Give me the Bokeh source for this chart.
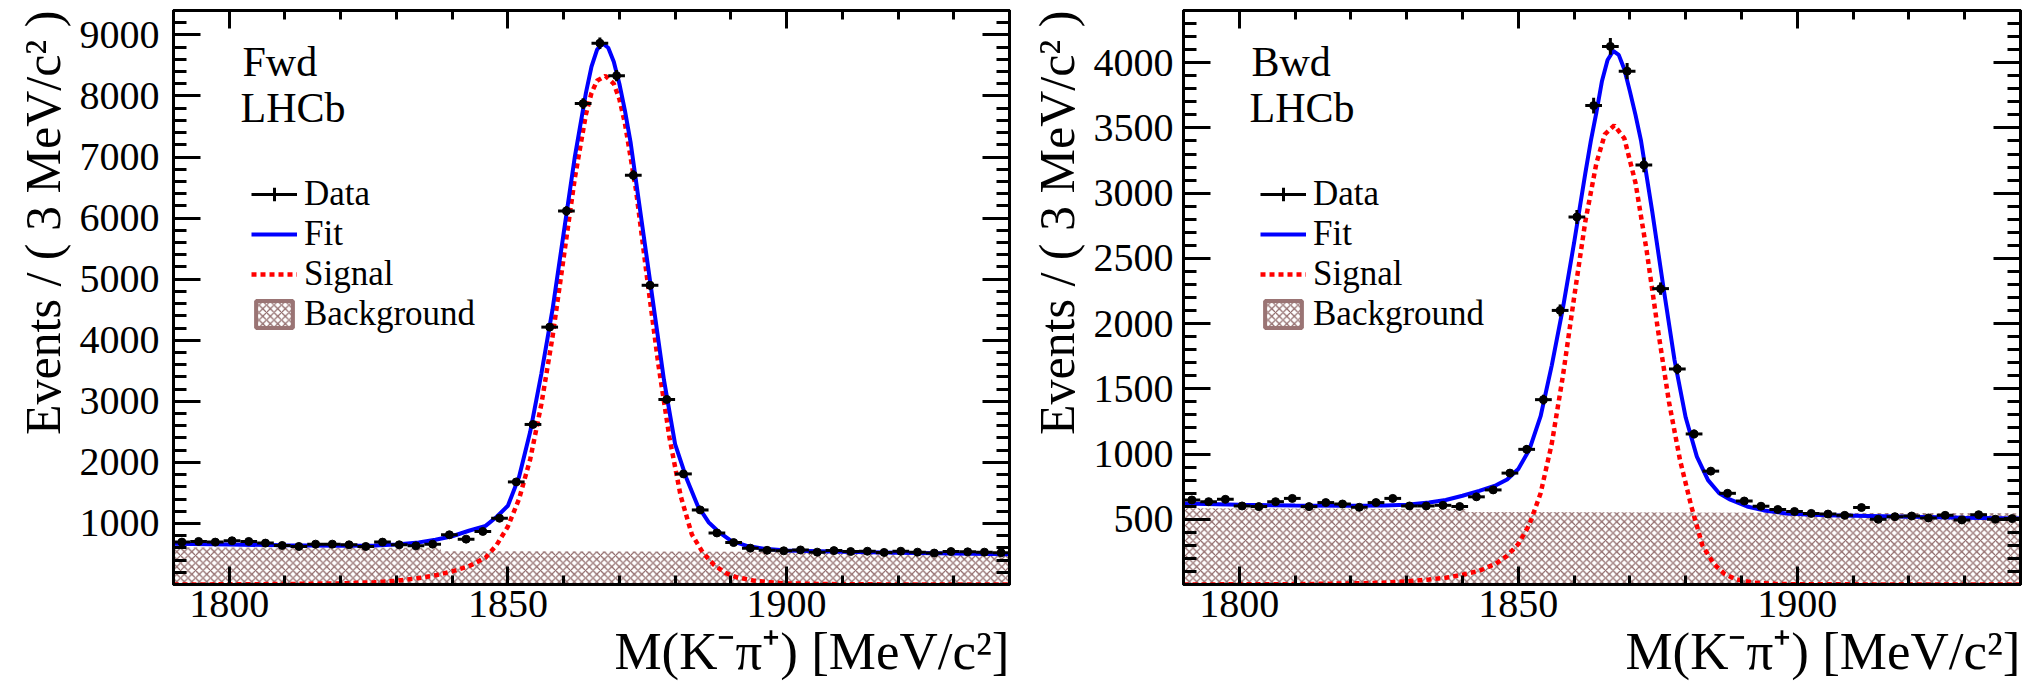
import numpy as np
from bokeh.plotting import figure
from bokeh.layouts import row
from bokeh.models import (ColumnDataSource, FixedTicker, LinearAxis, Range1d,
                          Legend, LegendItem, Label, Title, CustomJSTickFormatter)
from bokeh.embed import file_html
from bokeh.resources import INLINE

FONT = "Liberation Serif"

# ---------------- data ----------------
BIN_CENTERS = [1791.5, 1794.5, 1797.5, 1800.5, 1803.5, 1806.5, 1809.5, 1812.5, 1815.5, 1818.5,
               1821.5, 1824.5, 1827.5, 1830.5, 1833.5, 1836.5, 1839.5, 1842.5, 1845.5, 1848.5,
               1851.5, 1854.5, 1857.5, 1860.5, 1863.5, 1866.5, 1869.5, 1872.5, 1875.5, 1878.5,
               1881.5, 1884.5, 1887.5, 1890.5, 1893.5, 1896.5, 1899.5, 1902.5, 1905.5, 1908.5,
               1911.5, 1914.5, 1917.5, 1920.5, 1923.5, 1926.5, 1929.5, 1932.5, 1935.5, 1938.5]
BIN_WIDTH = 3.0

FWD_COUNTS = [694, 705, 694, 716, 705, 678, 639, 623, 661, 661,
              650, 623, 694, 650, 633, 661, 814, 743, 869, 1085,
              1680, 2621, 4215, 6118, 7875, 8865, 8333, 6702, 4900, 3030,
              1811, 1221, 844, 687, 595, 560, 552, 566, 530, 555,
              540, 545, 525, 545, 530, 515, 540, 535, 530, 520]

BWD_COUNTS = [648, 635, 653, 602, 597, 635, 660, 597, 628, 617,
              592, 628, 660, 602, 602, 607, 598, 672, 725, 854,
              1036, 1417, 2101, 2817, 3671, 4125, 3935, 3216, 2268, 1652,
              1154, 869, 699, 640, 600, 575, 560, 545, 540, 530,
              590, 500, 520, 525, 510, 530, 495, 535, 500, 505]

FWD_FIT_X = [1790, 1800, 1810, 1820, 1826, 1830, 1834, 1837, 1840, 1843, 1846, 1848, 1850, 1852,
             1854, 1856, 1858, 1860, 1862, 1864, 1865, 1866, 1867, 1868, 1869, 1870, 1871, 1872,
             1874, 1876, 1878, 1880, 1882, 1884, 1886, 1888, 1890, 1893, 1896, 1900, 1910, 1920,
             1930, 1940]
FWD_FIT_Y = [667, 655, 642, 636, 640, 655, 690, 733, 790, 880, 960, 1110, 1290, 1760,
             2500, 3450, 4500, 5750, 7000, 8050, 8480, 8760, 8860, 8790, 8560, 8200, 7760, 7250,
             5950, 4650, 3350, 2300, 1750, 1300, 1020, 850, 720, 630, 585, 555, 535, 520,
             508, 497]

FWD_SIG_X = [1790, 1800, 1810, 1820, 1826, 1830, 1834, 1837, 1840, 1843, 1846, 1848, 1850, 1852,
             1854, 1856, 1858, 1860, 1862, 1864, 1865, 1866, 1867.5, 1869, 1870, 1871, 1873, 1875,
             1877, 1879, 1881, 1883, 1885, 1887, 1889, 1891, 1894, 1897, 1900, 1910, 1920, 1940]
FWD_SIG_Y = [0, 3, 8, 18, 35, 60, 105, 150, 215, 300, 440, 650, 950, 1400,
             2050, 2950, 4050, 5350, 6650, 7700, 8050, 8250, 8330, 8200, 7950, 7550, 6450, 5000,
             3600, 2400, 1450, 820, 520, 320, 190, 120, 65, 35, 18, 4, 1, 0]

FWD_BKG_X = [1790, 1838, 1838, 1940]
FWD_BKG_Y = [610, 603, 545, 532]

BWD_FIT_X = [1790, 1800, 1810, 1820, 1826, 1830, 1834, 1837, 1840, 1843, 1846, 1848, 1850, 1852,
             1854, 1856, 1858, 1860, 1862, 1863, 1864, 1865, 1866, 1867, 1868, 1869, 1870, 1871,
             1872, 1874, 1876, 1878, 1880, 1882, 1884, 1886, 1888, 1891, 1894, 1898, 1905, 1918,
             1930, 1940]
BWD_FIT_Y = [620, 612, 605, 603, 606, 612, 628, 648, 680, 718, 760, 805, 885, 1035,
             1290, 1680, 2120, 2620, 3150, 3400, 3620, 3860, 4020, 4090, 4060, 3950, 3780, 3600,
             3400, 2860, 2280, 1720, 1280, 980, 800, 700, 650, 598, 568, 545, 530, 521,
             512, 505]

BWD_SIG_X = [1790, 1810, 1820, 1826, 1830, 1834, 1837, 1840, 1843, 1846, 1848, 1850, 1852,
             1854, 1856, 1858, 1860, 1862, 1864, 1865.5, 1867.2, 1869, 1871, 1873, 1875, 1877,
             1879, 1881, 1883, 1885, 1887, 1889, 1892, 1896, 1900, 1920, 1940]
BWD_SIG_Y = [0, 3, 8, 14, 24, 38, 52, 75, 105, 160, 220, 310, 460,
             700, 1080, 1600, 2200, 2780, 3230, 3450, 3520, 3420, 3080, 2560, 1960, 1400,
             950, 600, 300, 160, 80, 40, 15, 5, 2, 0, 0]

BWD_BKG_X = [1790, 1841, 1841, 1940]
BWD_BKG_Y = [585, 578, 556, 546]

X_MAJOR = [1800, 1850, 1900]
FWD_Y_MAJOR = [1000, 2000, 3000, 4000, 5000, 6000, 7000, 8000, 9000]
BWD_Y_MAJOR = [500, 1000, 1500, 2000, 2500, 3000, 3500, 4000]

Y_TITLE = "Events / ( 3 MeV/c\u00b2 )"
X_TITLE = "M(K\u207b\u03c0\u207a) [MeV/c\u00b2]"
LEGEND_LABELS = ["Data", "Fit", "Signal", "Background"]

HATCH = "#8c6464"
BOX = "#9a7474"


def style_axis(ax, tin_major, tin_minor, show_labels, standoff=0):
    ax.major_tick_in = tin_major
    ax.major_tick_out = 0
    ax.minor_tick_in = tin_minor
    ax.minor_tick_out = 0
    ax.axis_line_width = 3
    ax.axis_line_color = "black"
    ax.major_tick_line_width = 3
    ax.minor_tick_line_width = 3
    ax.major_tick_line_color = "black"
    ax.minor_tick_line_color = "black"
    if show_labels:
        ax.major_label_text_font = FONT
        ax.major_label_text_font_size = "40px"
        ax.major_label_text_color = "black"
        ax.major_label_standoff = standoff
    else:
        ax.formatter = CustomJSTickFormatter(code="return ''")
        ax.major_label_text_font_size = "0px"
        ax.major_label_text_color = None
        ax.major_label_standoff = 0


def build(tag, counts, fit_x, fit_y, sig_x, sig_y, bkg_x, bkg_y, ymax, ymajor, yminor,
          width, bl, br, ylab_standoff, ytitle_standoff, text_dx):
    p = figure(width=width, height=695, x_range=Range1d(1790, 1940), y_range=Range1d(0, ymax),
               output_backend="svg", toolbar_location=None,
               min_border_left=bl, min_border_right=br, min_border_top=10, min_border_bottom=111)
    p.xgrid.visible = False
    p.ygrid.visible = False
    p.outline_line_color = "black"
    p.outline_line_width = 3
    p.background_fill_color = "white"
    p.border_fill_color = "white"

    xminor = list(range(1790, 1941, 10))
    p.xaxis.ticker = FixedTicker(ticks=X_MAJOR, minor_ticks=xminor)
    p.yaxis.ticker = FixedTicker(ticks=ymajor, minor_ticks=yminor)
    style_axis(p.xaxis[0], 18, 9, True, 6)
    style_axis(p.yaxis[0], 27, 13, True, ylab_standoff)

    top = LinearAxis(ticker=FixedTicker(ticks=X_MAJOR, minor_ticks=xminor))
    style_axis(top, 18, 9, False)
    p.add_layout(top, "above")
    right = LinearAxis(ticker=FixedTicker(ticks=ymajor, minor_ticks=yminor))
    style_axis(right, 27, 13, False)
    p.add_layout(right, "right")

    # data source
    c = np.array(BIN_CENTERS, dtype=float)
    n = np.array(counts, dtype=float)
    e = np.sqrt(n)
    src = ColumnDataSource(dict(x=c, y=n, x0=c - BIN_WIDTH / 2, x1=c + BIN_WIDTH / 2,
                                y0=n - e, y1=n + e))

    # background (hatched)
    r_bkg = p.varea(x=bkg_x, y1=[0] * len(bkg_x), y2=bkg_y, fill_color=None,
                    hatch_pattern="x", hatch_color=HATCH, hatch_scale=7.5, hatch_weight=1.2)
    # zero-size boxes at the data points: only their legend swatch outline is visible
    r_box = p.quad(left="x", right="x", top="y", bottom="y", source=src,
                   fill_color=None, line_color=BOX, line_width=4, line_alpha=1.0)

    # signal and fit
    r_sig = p.line(sig_x, sig_y, line_color="#ff0000", line_width=4.5, line_dash="5 4")
    r_fit = p.line(fit_x, fit_y, line_color="#0000ff", line_width=4)

    # data
    r_xerr = p.segment(x0="x0", y0="y", x1="x1", y1="y", source=src,
                       line_color="black", line_width=3)
    r_cross = p.scatter("x", "y", source=src, marker="cross", size=1,
                        line_width=3, line_color="black")
    p.segment(x0="x", y0="y0", x1="x", y1="y1", source=src, line_color="black", line_width=3)
    p.scatter("x", "y", source=src, size=8, color="black")

    legend = Legend(items=[
        LegendItem(label=LEGEND_LABELS[0], renderers=[r_xerr, r_cross]),
        LegendItem(label=LEGEND_LABELS[1], renderers=[r_fit]),
        LegendItem(label=LEGEND_LABELS[2], renderers=[r_sig]),
        LegendItem(label=LEGEND_LABELS[3], renderers=[r_bkg, r_box]),
    ], location=(text_dx + 9, 250))
    legend.label_text_font = FONT
    legend.label_text_font_size = "35px"
    legend.label_text_color = "black"
    legend.glyph_width = 46
    legend.glyph_height = 34
    legend.label_height = 31
    legend.label_standoff = 7
    legend.spacing = 0
    legend.padding = 0
    legend.margin = 0
    legend.border_line_color = None
    legend.background_fill_alpha = 0
    p.add_layout(legend)

    p.add_layout(Label(x=text_dx, y=523, x_units="screen", y_units="screen", text=tag,
                       text_font=FONT, text_font_size="42px", text_color="black",
                       text_baseline="alphabetic"))
    p.add_layout(Label(x=text_dx - 2, y=477, x_units="screen", y_units="screen", text="LHCb",
                       text_font=FONT, text_font_size="42px", text_color="black",
                       text_baseline="alphabetic"))

    ytitle = Title(text=Y_TITLE, align="right", text_font=FONT, text_font_size="50px",
                   text_font_style="normal", text_color="black", standoff=ytitle_standoff)
    p.add_layout(ytitle, "left")
    xtitle = Title(text=X_TITLE, align="right", text_font=FONT, text_font_size="53px",
                   text_font_style="normal", text_color="black", standoff=0)
    p.add_layout(xtitle, "below")
    return p


fwd_minor = list(range(0, 9401, 200))
bwd_minor = list(range(0, 4401, 100))

p1 = build("Fwd", FWD_COUNTS, FWD_FIT_X, FWD_FIT_Y, FWD_SIG_X, FWD_SIG_Y, FWD_BKG_X, FWD_BKG_Y,
           9400, FWD_Y_MAJOR, fwd_minor, 1020, 173, 11, 14, 12, 69)
p2 = build("Bwd", BWD_COUNTS, BWD_FIT_X, BWD_FIT_Y, BWD_SIG_X, BWD_SIG_Y, BWD_BKG_X, BWD_BKG_Y,
           4400, BWD_Y_MAJOR, bwd_minor, 1020, 160, 20, 10, 12, 68)

layout = row(p1, p2)
open("out.html", "w").write(file_html(layout, INLINE))
